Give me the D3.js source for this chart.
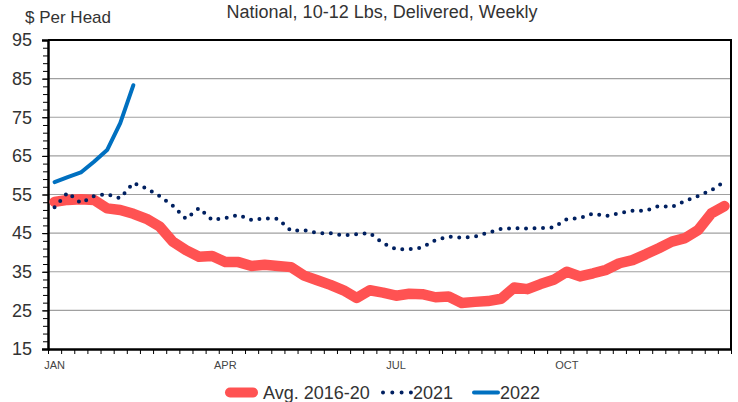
<!doctype html>
<html>
<head>
<meta charset='utf-8'>
<script src='https://d3js.org/d3.v7.min.js'></script>
<style>
  body { margin: 0; background: #fff; }
  svg { font-family: 'Liberation Sans', Arial, sans-serif; }
</style>
</head>
<body>
<svg width='738' height='402'></svg>
<script>
  // weekly values, week 1..52
  var weeks = d3.range(1, 53);
  var monthLabels = ['JAN', 'APR', 'JUL', 'OCT'];
  var monthWeeks = [1, 14, 27, 40];
  var yTicks = [15, 25, 35, 45, 55, 65, 75, 85, 95];

  var avg1620 = [53.1, 53.6, 53.8, 53.6, 51.4, 51.0, 50.0, 48.7, 46.7, 42.8,
                 40.6, 38.9, 39.1, 37.5, 37.5, 36.5, 36.8, 36.5, 36.2, 34.0,
                 32.8, 31.6, 30.2, 28.2, 30.2, 29.6, 28.8, 29.3, 29.2, 28.4,
                 28.6, 26.9, 27.2, 27.4, 28.0, 30.9, 30.5, 31.8, 32.9, 35.0,
                 33.8, 34.6, 35.5, 37.2, 38.0, 39.5, 41.1, 42.8, 43.7, 45.8,
                 50.1, 52.0];
  var y2021 = [51.7, 55.5, 52.8, 54.6, 55.1, 54.0, 58.0, 56.6, 54.6, 52.1,
               48.7, 51.5, 48.4, 48.9, 49.7, 48.4, 48.8, 48.7, 45.6, 45.8,
               45.0, 45.0, 44.4, 44.7, 45.0, 42.4, 40.8, 40.8, 41.3, 43.2,
               44.1, 43.8, 44.1, 45.1, 46.1, 46.3, 46.2, 46.3, 46.5, 48.6,
               48.9, 50.1, 49.4, 50.2, 50.8, 50.8, 52.0, 51.8, 53.3, 54.6,
               56.1, 58.3];
  var y2022 = [58.2, 59.5, 60.7, 63.5, 66.5, 73.5, 83.3];

  var svg = d3.select('svg'),
      margin = {top: 40, right: 7, bottom: 53, left: 48},
      width = +svg.attr('width') - margin.left - margin.right,
      height = +svg.attr('height') - margin.top - margin.bottom,
      g = svg.append('g').attr('transform', 'translate(' + margin.left + ',' + margin.top + ')');

  var x = d3.scaleBand().domain(weeks).range([0, width]);
  var xEdge = d3.scaleLinear().domain([0, weeks.length]).range([0, width]);
  var y = d3.scaleLinear().domain([15, 95]).range([height, 0]);

  svg.append('text')
    .attr('x', 382)
    .attr('y', 18)
    .attr('text-anchor', 'middle')
    .attr('font-size', 18)
    .attr('fill', '#333')
    .text('National, 10-12 Lbs, Delivered, Weekly');

  svg.append('text')
    .attr('x', 25)
    .attr('y', 23)
    .attr('font-size', 17)
    .attr('fill', '#333')
    .text('$ Per Head');

  // gridlines
  g.append('g')
    .selectAll('line')
    .data(yTicks.slice(1, -1))
    .enter().append('line')
    .attr('x1', 0)
    .attr('x2', width)
    .attr('y1', function(d) { return y(d); })
    .attr('y2', function(d) { return y(d); })
    .attr('stroke', '#a0a0a0')
    .attr('stroke-width', 1.2);

  // frame top / right
  g.append('path')
    .attr('d', 'M0,' + y(95) + 'H' + width + 'V' + height)
    .attr('fill', 'none')
    .attr('stroke', '#000')
    .attr('stroke-width', 2);

  // minor y ticks
  g.append('g')
    .call(d3.axisLeft(y).tickValues(d3.range(15, 96, 2)).tickSize(5).tickFormat(''))
    .call(function(a) { a.select('.domain').remove(); })
    .selectAll('line').attr('stroke', '#000');

  var yAxis = g.append('g')
    .call(d3.axisLeft(y).tickValues(yTicks).tickSize(6).tickPadding(10));
  yAxis.select('.domain').attr('stroke-width', 2.5);
  yAxis.selectAll('text').attr('font-size', 18).attr('fill', '#333').attr('font-family', null);

  // week ticks on the x axis
  var xAxis = g.append('g')
    .attr('transform', 'translate(0,' + height + ')')
    .call(d3.axisBottom(xEdge).tickValues(d3.range(weeks.length + 1)).tickSize(5).tickFormat('').tickSizeOuter(0));
  xAxis.select('.domain').attr('stroke-width', 2.5);

  g.append('g')
    .attr('transform', 'translate(0,' + height + ')')
    .call(d3.axisBottom(x).tickValues(monthWeeks).tickSize(0).tickPadding(12)
      .tickFormat(function(d) { return monthLabels[monthWeeks.indexOf(d)]; }))
    .call(function(a) { a.select('.domain').remove(); })
    .selectAll('text').attr('font-size', 11).attr('fill', '#444').attr('font-family', null);

  var line = d3.line()
    .x(function(d, i) { return x(weeks[i]) + x.bandwidth() / 2; })
    .y(function(d) { return y(d); });

  g.append('path')
    .datum(avg1620)
    .attr('fill', 'none')
    .attr('stroke', '#ff5252')
    .attr('stroke-width', 10.5)
    .attr('stroke-linejoin', 'round')
    .attr('stroke-linecap', 'round')
    .attr('d', line);

  g.append('path')
    .datum(y2021)
    .attr('fill', 'none')
    .attr('stroke', '#002060')
    .attr('stroke-width', 4)
    .attr('stroke-linecap', 'round')
    .attr('stroke-dasharray', '0,8.5')
    .attr('d', line);

  g.append('path')
    .datum(y2022)
    .attr('fill', 'none')
    .attr('stroke', '#0070c0')
    .attr('stroke-width', 4)
    .attr('stroke-linejoin', 'round')
    .attr('stroke-linecap', 'round')
    .attr('d', line);

  // legend
  var legendItems = [
    {name: 'Avg. 2016-20', color: '#ff5252', w: 10, dash: null, x0: 230, x1: 253, tx: 263},
    {name: '2021', color: '#002060', w: 4, dash: '0,9.3', x0: 383, x1: 411, tx: 413},
    {name: '2022', color: '#0070c0', w: 4, dash: null, x0: 474, x1: 498, tx: 500}
  ];
  var legend = svg.append('g')
    .selectAll('g')
    .data(legendItems)
    .enter().append('g');

  legend.append('line')
    .attr('x1', function(d) { return d.x0; })
    .attr('x2', function(d) { return d.x1; })
    .attr('y1', 392.5)
    .attr('y2', 392.5)
    .attr('stroke', function(d) { return d.color; })
    .attr('stroke-width', function(d) { return d.w; })
    .attr('stroke-linecap', 'round')
    .attr('stroke-dasharray', function(d) { return d.dash; });

  legend.append('text')
    .attr('x', function(d) { return d.tx; })
    .attr('y', 399)
    .attr('font-size', 18)
    .attr('fill', '#333')
    .text(function(d) { return d.name; });
</script>
</body>
</html>
